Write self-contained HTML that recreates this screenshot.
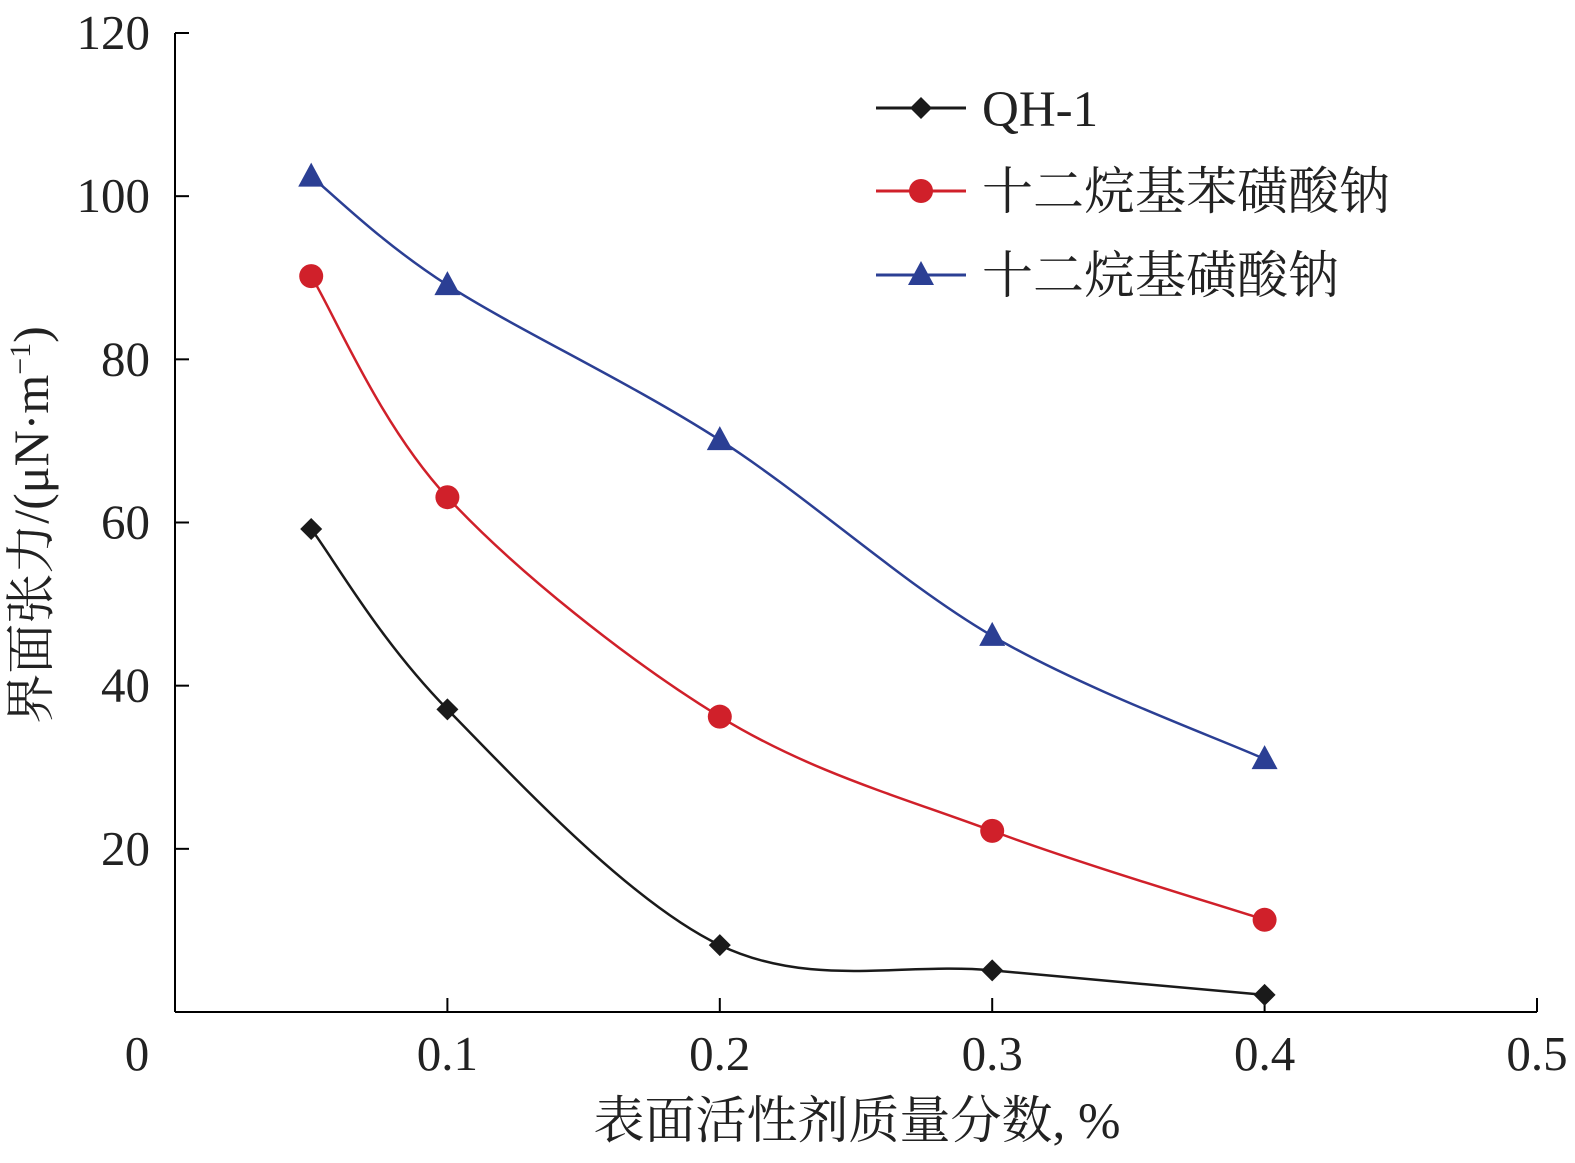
<!DOCTYPE html>
<html><head><meta charset="utf-8"><style>
html,body{margin:0;padding:0;background:#fff;}
svg{display:block;font-family:"Liberation Serif","Noto Serif CJK SC",serif;}
</style></head><body>
<svg id="chart" width="1575" height="1163" viewBox="0 0 1575 1163">
<g id="axes"></g>
<g id="series"></g>
<g id="legend"></g>
</svg>
<script>
const xValues = [0.05, 0.1, 0.2, 0.3, 0.4];
const qh1 = [59.2, 37.1, 8.2, 5.1, 2.1];
const sdbs = [90.2, 63.1, 36.2, 22.2, 11.3];
const sds = [102.4, 89.1, 70.1, 46.1, 31.0];
const xTicks = [0, 0.1, 0.2, 0.3, 0.4, 0.5];
const xTickLabels = ["0", "0.1", "0.2", "0.3", "0.4", "0.5"];
const yTicks = [20, 40, 60, 80, 100, 120];
const yTickLabels = ["20", "40", "60", "80", "100", "120"];
const seriesNames = ["QH-1", "十二烷基苯磺酸钠", "十二烷基磺酸钠"];

const NS = "http://www.w3.org/2000/svg";
const X0 = 175, X1 = 1537, Y0 = 1012, Y1 = 33;
const xs = v => X0 + (v / 0.5) * (X1 - X0);
const ys = v => Y0 - (v / 120) * (Y0 - Y1);
function mk(tag, attrs, parent, text) {
  const e = document.createElementNS(NS, tag);
  for (const k in attrs) e.setAttribute(k, attrs[k]);
  if (text !== undefined) e.textContent = text;
  parent.appendChild(e);
  return e;
}
const axes = document.getElementById('axes');
let e;
e = mk('line', {x1: X0, y1: Y0, x2: X1, y2: Y0, stroke: '#000', 'stroke-width': 2}, axes);


e = mk('line', {x1: X0, y1: Y0, x2: X0, y2: Y1, stroke: '#000', 'stroke-width': 2}, axes);


xTicks.forEach((t, i) => {
  const x = xs(t);
  if (i > 0) {
    e = mk('line', {x1: x, y1: Y0, x2: x, y2: Y0 - 14, stroke: '#000', 'stroke-width': 2}, axes);
    
    
  }
  e = mk('text', {x: i === 0 ? 137 : x, y: 1070, 'font-size': 49, 'text-anchor': 'middle', fill: '#222'}, axes, xTickLabels[i]);
  
  
});
yTicks.forEach((t, i) => {
  const y = ys(t);
  e = mk('line', {x1: X0, y1: y, x2: X0 + 14, y2: y, stroke: '#000', 'stroke-width': 2}, axes);
  
  
  e = mk('text', {x: 150, y: y + 16, 'font-size': 49, 'text-anchor': 'end', fill: '#222'}, axes, yTickLabels[i]);
  
  
});
e = mk('text', {x: 857, y: 1138, 'font-size': 51, 'text-anchor': 'middle', fill: '#222'}, axes, '表面活性剂质量分数, %');


e = mk('text', {x: 0, y: 0, 'font-size': 50, 'text-anchor': 'middle', fill: '#222', transform: 'translate(48,525) rotate(-90)'}, axes);


e.innerHTML = '界面张力/(μN·m<tspan font-size="30" dy="-18">−1</tspan><tspan dy="18">)</tspan>';

function spline(pts) {
  let d = `M${pts[0][0]},${pts[0][1]}`;
  for (let i = 0; i < pts.length - 1; i++) {
    const p0 = pts[Math.max(0, i - 1)], p1 = pts[i], p2 = pts[i + 1], p3 = pts[Math.min(pts.length - 1, i + 2)];
    const c1 = [p1[0] + (p2[0] - p0[0]) / 6, p1[1] + (p2[1] - p0[1]) / 6];
    const c2 = [p2[0] - (p3[0] - p1[0]) / 6, p2[1] - (p3[1] - p1[1]) / 6];
    d += ` C${c1[0]},${c1[1]} ${c2[0]},${c2[1]} ${p2[0]},${p2[1]}`;
  }
  return d;
}
function marker(g, type, x, y, color) {
  let m;
  if (type === 'diamond') m = mk('polygon', {points: `${x},${y-11} ${x+11},${y} ${x},${y+11} ${x-11},${y}`, fill: color}, g);
  else if (type === 'circle') m = mk('circle', {cx: x, cy: y, r: 12, fill: color}, g);
  else m = mk('polygon', {points: `${x},${y-14} ${x+13},${y+10} ${x-13},${y+10}`, fill: color}, g);
  return m;
}
const seriesG = document.getElementById('series');
const defs = [[qh1, '#1a1a1a', 'diamond', 'qh1'], [sdbs, '#d0202a', 'circle', 'sdbs'], [sds, '#2b3f94', 'triangle', 'sds']];
defs.forEach(([vals, color, type, key]) => {
  const g = mk('g', {}, seriesG);
  
  
  const pts = xValues.map((x, i) => [xs(x), ys(vals[i])]);
  const p = mk('path', {d: spline(pts), fill: 'none', stroke: color, 'stroke-width': 2.5}, g);
  
  
  pts.forEach(pt => {
    const m = marker(g, type, pt[0], pt[1], color);
    
    
  });
});
const leg = document.getElementById('legend');
const legY = [108, 191, 275];
defs.forEach(([vals, color, type, key], i) => {
  const g = mk('g', {}, leg);
  
  
  mk('line', {x1: 876, y1: legY[i], x2: 966, y2: legY[i], stroke: color, 'stroke-width': 3}, g);
  marker(g, type, 921, legY[i], color);
  const t = mk('text', {x: 982, y: legY[i] + 18, 'font-size': 51, fill: '#222'}, g, seriesNames[i]);
  
  
});
</script>
</body></html>
